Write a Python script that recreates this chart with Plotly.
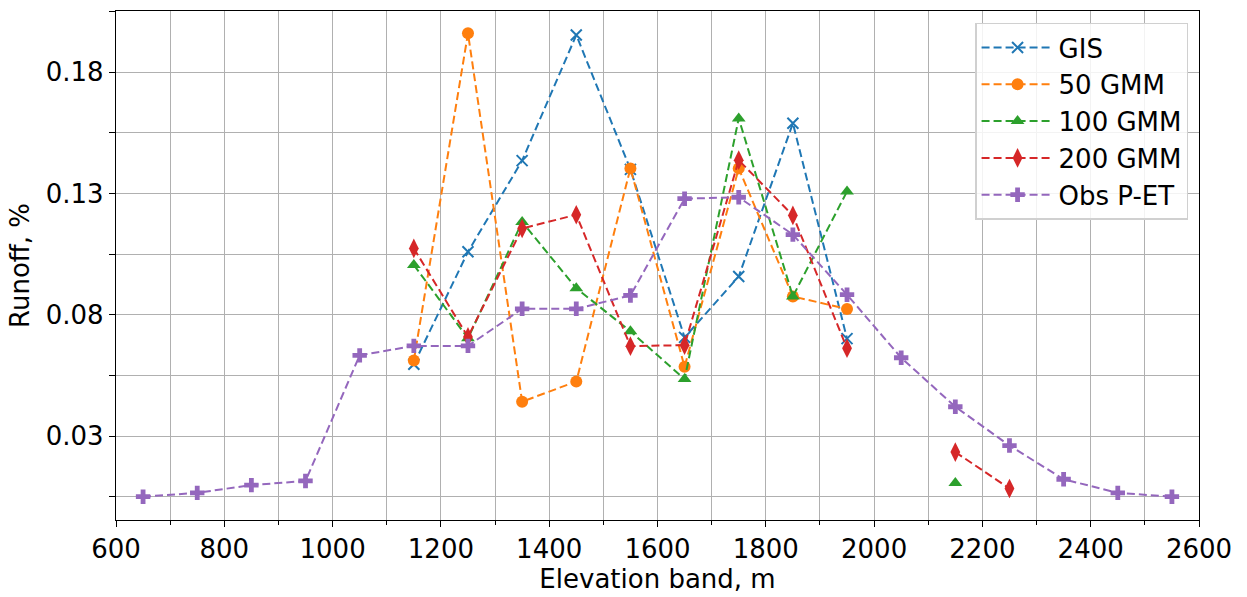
import plotly.graph_objects as go

elevation = [650, 750, 850, 950, 1050, 1150, 1250, 1350, 1450, 1550,
             1650, 1750, 1850, 1950, 2050, 2150, 2250, 2350, 2450, 2550]

N = None
gis = [N, N, N, N, N, 0.0596, 0.106, 0.1436, 0.1954, 0.1400,
       0.0707, 0.0958, 0.159, 0.0702, N, N, N, N, N, N]
gmm50 = [N, N, N, N, N, 0.0612, 0.1961, 0.0442, 0.0525, 0.1404,
         0.0586, 0.1404, 0.0876, 0.0824, N, N, N, N, N, N]
gmm100 = [N, N, N, N, N, 0.1006, 0.0703, 0.1183, 0.0910, 0.0732,
          0.0535, 0.1610, 0.0876, 0.1309, N, 0.0107, N, N, N, N]
gmm200 = [N, N, N, N, N, 0.1074, 0.0709, 0.1156, 0.1213, 0.0671,
          0.0675, 0.1438, 0.1210, 0.0662, N, 0.0234, 0.0084, N, N, N]
obs = [0.0050, 0.0066, 0.0098, 0.0115, 0.0633, 0.0672, 0.0672, 0.0825, 0.0825, 0.0880,
       0.1279, 0.1285, 0.1131, 0.0883, 0.0623, 0.0421, 0.0261, 0.0122, 0.0066, 0.0050]

series_names = ["GIS", "50 GMM", "100 GMM", "200 GMM", "Obs P-ET"]
series_values = [gis, gmm50, gmm100, gmm200, obs]
colors = ["#1f77b4", "#ff7f0e", "#2ca02c", "#d62728", "#9467bd"]
symbols = ["x-thin", "circle", "triangle-up", "diamond-tall", "cross"]
sizes = [11, 12, 12, 14, 12]

FONT = "DejaVu Sans"
FS = 26
fig = go.Figure()
for i, (name, vals) in enumerate(zip(series_names, series_values)):
    fig.add_trace(go.Scatter(
        x=elevation, y=vals, name=name, mode="lines+markers",
        legendgroup=f"g{i}",
        line=dict(color=colors[i], width=2, dash="8px,4px"),
        marker=dict(symbol=symbols[i], size=sizes[i], color=colors[i],
                    line=dict(color=colors[i], width=2 if symbols[i] == "x-thin" else 0)),
        connectgaps=False,
    ))

axis_common = dict(
    showline=True, linecolor="black", linewidth=1.4, mirror=True,
    ticks="outside", ticklen=6, tickwidth=1.4, tickcolor="black",
    showgrid=True, gridcolor="#b0b0b0", gridwidth=1.4,
    zeroline=False,
    tickfont=dict(family=FONT, size=FS, color="black"),
)

fig.update_layout(
    width=1247, height=597,
    margin=dict(l=116, r=48, t=10, b=76),
    paper_bgcolor="white", plot_bgcolor="white",
    font=dict(family=FONT, size=FS, color="black"),
    xaxis=dict(
        range=[600, 2600], tick0=600, dtick=200,
        minor=dict(dtick=100, tick0=600, showgrid=True, gridcolor="#b0b0b0", gridwidth=1.4,
                   ticks="outside", ticklen=4, tickcolor="black"),
        title=dict(text="Elevation band, m", font=dict(family=FONT, size=FS, color="black"), standoff=4),
        **axis_common,
    ),
    yaxis=dict(
        range=[-0.0046, 0.2053], tick0=0.03, dtick=0.05, tickformat=".2f",
        minor=dict(dtick=0.025, tick0=0.005, showgrid=True, gridcolor="#b0b0b0", gridwidth=1.4,
                   ticks="outside", ticklen=6, tickcolor="black"),
        title=dict(text="Runoff, %", font=dict(family=FONT, size=FS, color="black"), standoff=8),
        **axis_common,
    ),
    legend=dict(
        x=0.99, y=0.977, xanchor="right", yanchor="top",
        bgcolor="rgba(255,255,255,0.85)", bordercolor="#d0d0d0", borderwidth=1.4,
        font=dict(family=FONT, size=FS, color="black"),
        itemwidth=72, tracegroupgap=0,
    ),
    showlegend=True,
)

fig.write_html("out.html")
